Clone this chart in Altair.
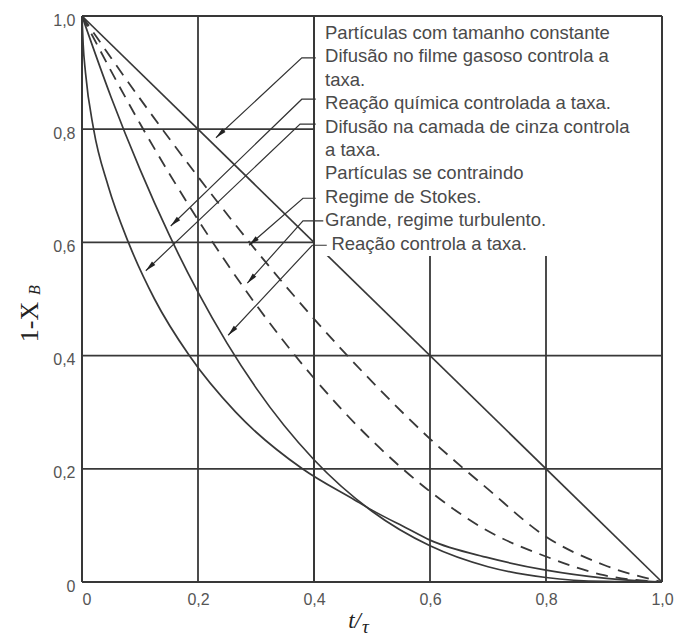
import math
import altair as alt
import pandas as pd

# Unconverted fraction 1 - X_B against dimensionless time t/τ
film_t = [0.0, 1.0]
film_y = [1.0, 0.0]

reaction_t = [0.0, 0.05, 0.1, 0.15, 0.2, 0.25, 0.3, 0.4, 0.5, 0.6, 0.7, 0.8, 0.9, 1.0]
reaction_y = [1.0, 0.857, 0.729, 0.614, 0.512, 0.422, 0.343, 0.216, 0.125, 0.064, 0.027, 0.008, 0.001, 0.0]

ash_t = [0.0, 0.002, 0.006, 0.02, 0.045, 0.08, 0.125, 0.185, 0.265, 0.38, 0.47, 0.5, 0.56, 0.6, 0.7, 0.8, 0.9, 1.0]
ash_y = [1.0, 0.95, 0.9, 0.8, 0.7, 0.6, 0.5, 0.4, 0.3, 0.2, 0.145, 0.127, 0.095, 0.074, 0.043, 0.021, 0.007, 0.0]

turbulent_t = [0.0, 0.1, 0.2, 0.3, 0.4, 0.5, 0.6, 0.7, 0.8, 0.9, 1.0]
turbulent_y = [1.0, 0.81, 0.64, 0.49, 0.36, 0.25, 0.16, 0.09, 0.045, 0.012, 0.0]

stokes_t = [0.0, 0.1, 0.2, 0.3, 0.4, 0.5, 0.6, 0.7, 0.8, 0.9, 1.0]
stokes_y = [1.0, 0.854, 0.716, 0.586, 0.465, 0.354, 0.253, 0.164, 0.08, 0.03, 0.0]

tick_vals = [0.0, 0.2, 0.4, 0.6, 0.8, 1.0]
grid_vals = [0.2, 0.4, 0.6, 0.8]

legend_lines = [
    "Partículas com tamanho constante",
    "Difusão no filme gasoso controla a",
    "taxa.",
    "Reação química controlada a taxa.",
    "Difusão na camada de cinza controla",
    "a taxa.",
    "Partículas se contraindo",
    "Regime de Stokes.",
    "Grande, regime turbulento.",
    "Reação controla a taxa.",
]
legend_indent = [0, 0, 0, 0, 0, 0, 0, 0, 0, 1]

# Leader arrows, in data units: tail end, bend, row height, arrow tip
arrow_tail_t = [0.403, 0.403, 0.403, 0.403, 0.416, 0.422]
arrow_bend_t = [0.379, 0.379, 0.376, 0.381, 0.381, 0.397]
arrow_row_y = [0.926, 0.853, 0.809, 0.678, 0.638, 0.595]
arrow_tip_t = [0.231, 0.153, 0.110, 0.288, 0.285, 0.252]
arrow_tip_y = [0.785, 0.629, 0.550, 0.595, 0.528, 0.436]

# Legend panel extent
panel_t = [0.4, 1.0]
panel_y = [0.576, 1.0]

W, H = 580, 566
INK = "#383838"
xs = alt.Scale(domain=[0, 1], nice=False, zero=False)
ys = alt.Scale(domain=[0, 1], nice=False, zero=False)

label_expr = "datum.value == 0 ? '0' : replace(format(datum.value, '.1f'), '.', ',')"
x_axis = alt.Axis(
    values=tick_vals, labelExpr=label_expr, title=None, domain=False, ticks=False,
    grid=False, labelFlush=False, labelPadding=9,
    labelAlign={"condition": {"test": "datum.value == 0", "value": "left"}, "value": "center"},
)
y_axis = alt.Axis(
    values=tick_vals, labelExpr=label_expr, title=None, domain=False, ticks=False,
    grid=False, labelPadding=7, labelOffset=4,
)


def X(field):
    return alt.X(field, scale=xs, axis=x_axis)


def Y(field):
    return alt.Y(field, scale=ys, axis=y_axis)


# ---- grid
grid_rows = []
for g in grid_vals:
    grid_rows.append({"x": g, "x2": g, "y": 0.0, "y2": 1.0})
    grid_rows.append({"x": 0.0, "x2": 1.0, "y": g, "y2": g})
grid = alt.Chart(pd.DataFrame(grid_rows)).mark_rule(color=INK, strokeWidth=1.8).encode(
    x=X("x:Q"), x2="x2:Q", y=Y("y:Q"), y2="y2:Q",
)


# ---- curves
def curve_frame(name, ts, vs):
    return pd.DataFrame({"t": ts, "v": vs, "curve": name, "k": range(len(ts))})


solid_df = pd.concat([
    curve_frame("film", film_t, film_y),
    curve_frame("reaction", reaction_t, reaction_y),
    curve_frame("ash", ash_t, ash_y),
])
dashed_df = pd.concat([
    curve_frame("turbulent", turbulent_t, turbulent_y),
    curve_frame("stokes", stokes_t, stokes_y),
])

solid = alt.Chart(solid_df).mark_line(color=INK, strokeWidth=1.7, interpolate="monotone").encode(
    x=X("t:Q"), y=Y("v:Q"), detail="curve:N", order="k:Q",
)
dashed = alt.Chart(dashed_df).mark_line(
    color=INK, strokeWidth=1.8, strokeDash=[12, 8], interpolate="monotone"
).encode(
    x=X("t:Q"), y=Y("v:Q"), detail="curve:N", order="k:Q",
)

# ---- white legend panel and the borders drawn over it
panel = alt.Chart(pd.DataFrame({"x": [panel_t[0]], "x2": [panel_t[1]], "y": [panel_y[0]], "y2": [panel_y[1]]})).mark_rect(
    fill="white", strokeWidth=0
).encode(
    x=X("x:Q"), x2="x2:Q", y=Y("y:Q"), y2="y2:Q",
)

frame_rows = [
    {"x": 0.0, "x2": 1.0, "y": 0.0, "y2": 0.0},
    {"x": 0.0, "x2": 1.0, "y": 1.0, "y2": 1.0},
    {"x": 0.0, "x2": 0.0, "y": 0.0, "y2": 1.0},
    {"x": 1.0, "x2": 1.0, "y": 0.0, "y2": 1.0},
    {"x": panel_t[0], "x2": panel_t[0], "y": 0.0, "y2": 1.0},
]
frame = alt.Chart(pd.DataFrame(frame_rows)).mark_rule(color=INK, strokeWidth=2).encode(
    x=X("x:Q"), x2="x2:Q", y=Y("y:Q"), y2="y2:Q",
)

# ---- leader lines with arrowheads
lead_rows, head_rows = [], []
for i in range(len(arrow_tip_t)):
    pts = [(arrow_tail_t[i], arrow_row_y[i]), (arrow_bend_t[i], arrow_row_y[i]), (arrow_tip_t[i], arrow_tip_y[i])]
    for k, (t, v) in enumerate(pts):
        lead_rows.append({"id": i, "k": k, "t": t, "v": v})
    dx = (arrow_tip_t[i] - arrow_bend_t[i]) * W
    dy = -(arrow_tip_y[i] - arrow_row_y[i]) * H
    ang = math.degrees(math.atan2(dx, -dy)) % 360
    head_rows.append({"t": arrow_tip_t[i], "v": arrow_tip_y[i], "ang": ang})

leaders = alt.Chart(pd.DataFrame(lead_rows)).mark_line(color="#333333", strokeWidth=1.2).encode(
    x=X("t:Q"), y=Y("v:Q"), detail="id:N", order="k:Q",
)
heads = alt.Chart(pd.DataFrame(head_rows)).mark_point(
    shape="M0,0L0.6,2.7L-0.6,2.7Z", size=64, filled=True, color="#222222", opacity=1, strokeWidth=0
).encode(
    x=X("t:Q"), y=Y("v:Q"), angle=alt.Angle("ang:Q", scale=None),
)

# ---- legend text, placed in data units on the shared scales
line_step = 23.4 / H
leg_df = pd.DataFrame({
    "txt": legend_lines,
    "t": [0.419 + 0.011 * d for d in legend_indent],
    "v": [1.0 - (17.0 / H) - line_step * i for i in range(len(legend_lines))],
})
legend_text = alt.Chart(leg_df).mark_text(
    align="left", baseline="middle", font="Liberation Sans", fontSize=18.5, color="#4a4a4a"
).encode(
    x=X("t:Q"), y=Y("v:Q"), text="txt:N",
)

# ---- axis titles
title_font = "Liberation Serif"
one = pd.DataFrame({"a": [0]})
y_title = alt.Chart(one).mark_text(
    text="1-X", angle=270, font=title_font, fontSize=26, color="#222222", align="center", baseline="middle"
).encode(x=alt.value(-52), y=alt.value(306))
y_sub = alt.Chart(one).mark_text(
    text="B", angle=270, font=title_font, fontSize=16, fontStyle="italic", color="#222222",
    align="center", baseline="middle"
).encode(x=alt.value(-47), y=alt.value(274))
x_title = alt.Chart(one).mark_text(
    text="t/", font=title_font, fontSize=23, fontStyle="italic", color="#222222", align="right", baseline="alphabetic"
).encode(x=alt.value(279), y=alt.value(612))
x_sub = alt.Chart(one).mark_text(
    text="τ", font=title_font, fontSize=19, fontStyle="italic", color="#222222", align="left", baseline="alphabetic"
).encode(x=alt.value(280), y=alt.value(617))

chart = alt.layer(
    grid, solid, dashed, panel, frame, leaders, heads, legend_text, y_title, y_sub, x_title, x_sub
).properties(
    width=W, height=H,
    autosize=alt.AutoSizeParams(type="none"),
    padding={"left": 82, "top": 16, "right": 12, "bottom": 57},
).configure_view(strokeWidth=0).configure_axis(
    labelFont="Liberation Sans", labelFontSize=16, labelColor="#555555"
)

chart.save("out.html", embed_options={"renderer": "svg", "actions": False})
